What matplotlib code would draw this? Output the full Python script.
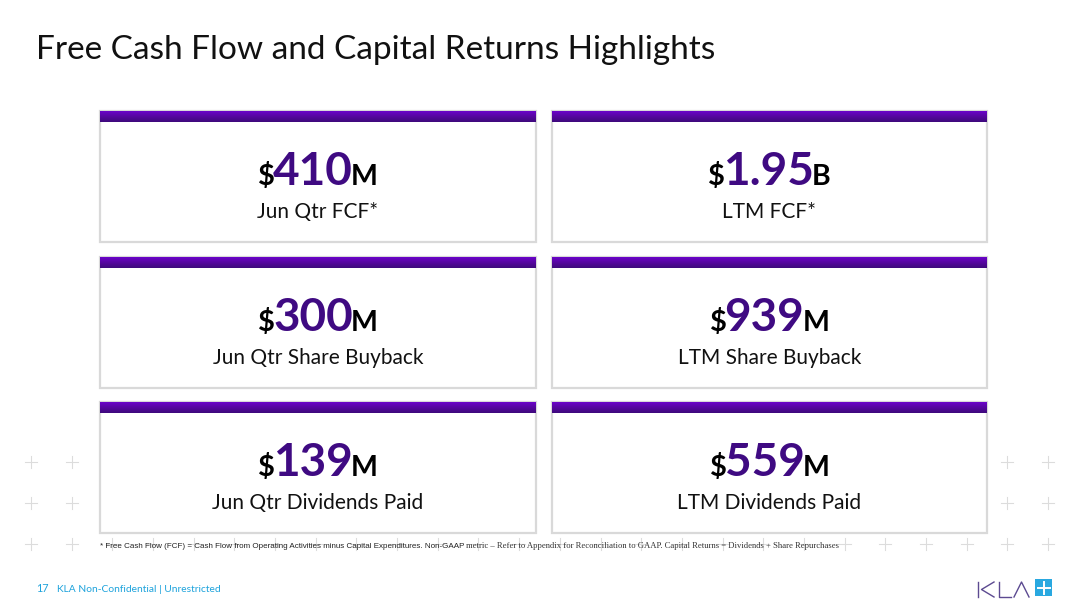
import matplotlib
matplotlib.use("Agg")
import matplotlib.pyplot as plt
from matplotlib.patches import Rectangle
from matplotlib.colors import LinearSegmentedColormap
import numpy as np

# ---- data ----
amounts = ["410", "1.95", "300", "939", "139", "559"]
units = ["M", "B", "M", "M", "M", "M"]
labels = ["Jun Qtr FCF*", "LTM FCF*", "Jun Qtr Share Buyback",
          "LTM Share Buyback", "Jun Qtr Dividends Paid", "LTM Dividends Paid"]
title = "Free Cash Flow and Capital Returns Highlights"
footnote_sans = "* Free Cash Flow (FCF) = Cash Flow from Operating Activities minus Capital Expenditures. Non-GAAP"
footnote_serif = " metric \u2013 Refer to Appendix for Reconciliation to GAAP. Capital Returns = Dividends + Share Repurchases"
footer_num = "17"
footer_text = "KLA Non-Confidential | Unrestricted"

W, H = 1080, 605
fig = plt.figure(figsize=(W / 100, H / 100), dpi=100)
ax = fig.add_axes([0, 0, 1, 1])
ax.set_xlim(0, W)
ax.set_ylim(H, 0)
ax.axis("off")
fig.patch.set_facecolor("white")
renderer = fig.canvas.get_renderer()

FONT = "Lato"
PURPLE = "#3f0a82"

def width(t):
    return t.get_window_extent(renderer).width

# background crosses
cross_cols = 31 + 40.68 * np.arange(26)
cross_rows = [462, 503, 544]
for yy in cross_rows:
    for xx in cross_cols:
        ax.plot([xx - 6, xx + 6], [yy, yy], color="#dcdcdc", lw=0.8, zorder=1)
        ax.plot([xx, xx], [yy - 6, yy + 6], color="#dcdcdc", lw=0.8, zorder=1)

# boxes
col_x = [(100, 536), (552, 987)]
row_top = [111, 257, 402]
box_h = 131
bar_h = 11
grad = np.linspace(0, 1, 32).reshape(-1, 1)
cmap = LinearSegmentedColormap.from_list("bar", ["#6a04c9", "#56069f", "#3e0a7c"])

for i in range(6):
    r, c = divmod(i, 2)
    x0, x1 = col_x[c]
    y0 = row_top[r]
    ax.add_patch(Rectangle((x0, y0), x1 - x0, box_h, facecolor="white",
                           edgecolor="#d9d9d9", lw=1.6, zorder=2))
    ax.imshow(grad, cmap=cmap, extent=(x0, x1, y0 + bar_h, y0), aspect="auto",
              zorder=3, interpolation="bilinear")
    cx = (x0 + x1) / 2
    parts = [("$", "black", 21), (amounts[i], PURPLE, 33), (units[i], "black", 20.5)]
    txts = []
    for s, col, fs in parts:
        t = ax.text(0, y0 + 74, s, color=col, fontsize=fs, fontfamily=FONT,
                    fontweight="bold", va="baseline", ha="left", zorder=4)
        txts.append(t)
    ws = [width(t) for t in txts]
    gap = -2.0
    total = sum(ws) + gap * 2
    xs = cx - total / 2
    for t, w in zip(txts, ws):
        t.set_x(xs)
        xs += w + gap
    ax.text(cx, y0 + 107, labels[i], color="#111111", fontsize=15, fontfamily=FONT,
            va="baseline", ha="center", zorder=4)

# title
ax.text(36, 59, title, fontsize=24, fontfamily=FONT, color="#111111",
        va="baseline", ha="left")

# footnote
t1 = ax.text(100, 548, footnote_sans, fontsize=5.8, fontfamily="Liberation Sans",
             color="#222222", va="baseline", ha="left", zorder=4)
t2 = ax.text(100 + width(t1), 548, footnote_serif, fontsize=6.2,
             fontfamily="Liberation Serif", color="#333333", va="baseline",
             ha="left", zorder=4)

# footer
ax.text(36, 592, footer_num, fontsize=7.8, fontfamily=FONT, color="#1ea3dc",
        va="baseline", ha="left")
ax.text(57, 592, footer_text, fontsize=7.4, fontfamily=FONT, color="#1ea3dc",
        va="baseline", ha="left")

# logo
LOGO = "#5c4a91"
lw = 1.0
ax.plot([978, 978], [582, 597], color=LOGO, lw=lw)
ax.plot([994, 981.5, 994], [582, 589.5, 597], color=LOGO, lw=lw)
ax.plot([999, 999, 1011], [582, 597, 597], color=LOGO, lw=lw)
ax.plot([1014, 1021.5, 1029], [597, 582, 597], color=LOGO, lw=lw)
ax.add_patch(Rectangle((1035, 579), 17, 17, facecolor="#29a8e0", edgecolor="none"))
ax.plot([1037.5, 1049.5], [587.5, 587.5], color="white", lw=1.4)
ax.plot([1043.5, 1043.5], [581.5, 593.5], color="white", lw=1.4)

fig.savefig("out.png", dpi=100, facecolor="white")
